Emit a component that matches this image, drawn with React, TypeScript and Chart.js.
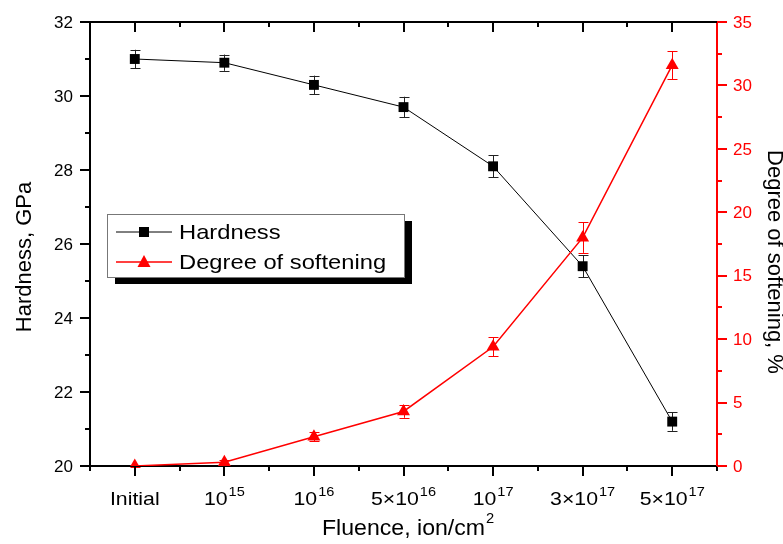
import React, { useEffect, useRef } from 'react';
import { Chart, registerables } from 'chart.js';

Chart.register(...registerables);

// ---- data ----
const categories = ['Initial', '10^15', '10^16', '5×10^16', '10^17', '3×10^17', '5×10^17'];
const hardness = [31.0, 30.9, 30.3, 29.7, 28.1, 25.4, 21.2];
const hardnessErr = [0.25, 0.22, 0.25, 0.28, 0.3, 0.3, 0.25];
const softening = [0, 0.3, 2.3, 4.3, 9.4, 18.0, 31.6];
const softeningErr = [0.1, 0.2, 0.35, 0.5, 0.75, 1.2, 1.1];
const leftTickLabels = [20, 22, 24, 26, 28, 30, 32];
const rightTickLabels = [0, 5, 10, 15, 20, 25, 30, 35];
const leftMinorStep = 1;
const rightMinorStep = 2.5;

const FONT = '"Liberation Sans", Arial, Helvetica, sans-serif';
const RED = '#ff0000';

function textSX(ctx: CanvasRenderingContext2D, text: string, x: number, y: number, sx: number) {
  ctx.save();
  ctx.translate(x, y);
  ctx.scale(sx, 1);
  ctx.fillText(text, 0, 0);
  ctx.restore();
}

const LBL_SX = 1.12;

function drawLabel(ctx: CanvasRenderingContext2D, text: string, cx: number, baseY: number) {
  const parts = text.split('^');
  const base = parts[0];
  const exp = parts[1] || '';
  ctx.font = `19px ${FONT}`;
  const wb = ctx.measureText(base).width * LBL_SX;
  ctx.font = `13px ${FONT}`;
  const we = exp ? ctx.measureText(exp).width * LBL_SX + 1 : 0;
  const x0 = cx - (wb + we) / 2;
  ctx.textAlign = 'left';
  ctx.textBaseline = 'alphabetic';
  ctx.font = `19px ${FONT}`;
  textSX(ctx, base, x0, baseY, LBL_SX);
  if (exp) {
    ctx.font = `13px ${FONT}`;
    textSX(ctx, exp, x0 + wb + 1, baseY - 9, LBL_SX);
  }
}

const decorPlugin = {
  id: 'decor',
  beforeDatasetsDraw(chart: any) {
    const ctx: CanvasRenderingContext2D = chart.ctx;
    const y = chart.scales.y;
    const y1 = chart.scales.y1;
    const drawErr = (metaIdx: number, vals: number[], errs: number[], scale: any, color: string) => {
      const meta = chart.getDatasetMeta(metaIdx);
      ctx.save();
      ctx.strokeStyle = color;
      ctx.lineWidth = 1;
      meta.data.forEach((pt: any, i: number) => {
        const top = scale.getPixelForValue(vals[i] + errs[i]);
        const bot = scale.getPixelForValue(vals[i] - errs[i]);
        const x = Math.round(pt.x) + 0.5;
        ctx.beginPath();
        ctx.moveTo(x, top);
        ctx.lineTo(x, bot);
        ctx.moveTo(x - 5, Math.round(top) + 0.5);
        ctx.lineTo(x + 5, Math.round(top) + 0.5);
        ctx.moveTo(x - 5, Math.round(bot) + 0.5);
        ctx.lineTo(x + 5, Math.round(bot) + 0.5);
        ctx.stroke();
      });
      ctx.restore();
    };
    drawErr(0, hardness, hardnessErr, y, '#222');
    drawErr(1, softening, softeningErr, y1, RED);
  },
  afterDraw(chart: any) {
    const ctx: CanvasRenderingContext2D = chart.ctx;
    const { left, right, top, bottom } = chart.chartArea;
    const x = chart.scales.x;
    const y = chart.scales.y;
    const y1 = chart.scales.y1;
    ctx.save();

    // top border
    ctx.strokeStyle = '#000';
    ctx.lineWidth = 2;
    ctx.beginPath();
    ctx.moveTo(left - 1, top);
    ctx.lineTo(right, top);
    ctx.stroke();

    // x ticks (major at categories, minor between)
    ctx.lineWidth = 2;
    const n = categories.length;
    for (let i = 0; i < n; i++) {
      const px = Math.round(x.getPixelForValue(i));
      ctx.beginPath();
      ctx.moveTo(px, bottom);
      ctx.lineTo(px, bottom + 10);
      ctx.moveTo(px, top);
      ctx.lineTo(px, top + 10);
      ctx.stroke();
      if (i < n - 1) {
        const mx = Math.round((x.getPixelForValue(i) + x.getPixelForValue(i + 1)) / 2);
        ctx.beginPath();
        ctx.moveTo(mx, bottom);
        ctx.lineTo(mx, bottom + 5);
        ctx.moveTo(mx, top);
        ctx.lineTo(mx, top + 5);
        ctx.stroke();
      }
    }
    ctx.beginPath();
    ctx.moveTo(left, bottom);
    ctx.lineTo(left, bottom + 5);
    ctx.moveTo(right, bottom);
    ctx.lineTo(right, bottom + 5);
    ctx.stroke();

    // x labels
    ctx.fillStyle = '#000';
    categories.forEach((c, i) => {
      drawLabel(ctx, c, x.getPixelForValue(i), 505);
    });

    // left ticks
    ctx.strokeStyle = '#000';
    for (let v = y.min; v <= y.max + 1e-9; v += leftMinorStep) {
      const py = Math.round(y.getPixelForValue(v));
      const major = leftTickLabels.includes(v);
      ctx.beginPath();
      ctx.moveTo(left - (major ? 10 : 5), py);
      ctx.lineTo(left, py);
      ctx.stroke();
    }
    ctx.font = `17px ${FONT}`;
    ctx.textAlign = 'right';
    ctx.textBaseline = 'middle';
    leftTickLabels.forEach((v) => {
      ctx.fillText(String(v), left - 17, y.getPixelForValue(v) + 1);
    });

    // right ticks
    ctx.strokeStyle = RED;
    ctx.fillStyle = RED;
    for (let v = y1.min; v <= y1.max + 1e-9; v += rightMinorStep) {
      const py = Math.round(y1.getPixelForValue(v));
      const major = rightTickLabels.includes(v);
      ctx.beginPath();
      ctx.moveTo(right, py);
      ctx.lineTo(right + (major ? 10 : 5), py);
      ctx.stroke();
    }
    ctx.textAlign = 'left';
    rightTickLabels.forEach((v) => {
      ctx.fillText(String(v), right + 16, y1.getPixelForValue(v) + 1);
    });

    // axis titles
    ctx.fillStyle = '#000';
    ctx.font = `22px ${FONT}`;
    ctx.textAlign = 'center';
    ctx.textBaseline = 'middle';
    ctx.save();
    ctx.translate(25, 257);
    ctx.rotate(-Math.PI / 2);
    ctx.fillText('Hardness, GPa', 0, 0);
    ctx.restore();

    ctx.save();
    ctx.translate(774, 262);
    ctx.rotate(Math.PI / 2);
    ctx.fillText('Degree of softening, %', 0, 0);
    ctx.restore();

    // x title
    ctx.textAlign = 'left';
    ctx.textBaseline = 'alphabetic';
    const TSX = 1.05;
    ctx.font = `22px ${FONT}`;
    const t = 'Fluence, ion/cm';
    const tw = ctx.measureText(t).width * TSX;
    ctx.font = `14px ${FONT}`;
    const sw = ctx.measureText('2').width * TSX;
    const tx = 322;
    ctx.font = `22px ${FONT}`;
    textSX(ctx, t, tx, 535, TSX);
    ctx.font = `14px ${FONT}`;
    textSX(ctx, '2', tx + tw + 1, 523, TSX);
    void sw;

    // legend
    const bx = 107, by = 214, bw = 297, bh = 63;
    ctx.fillStyle = '#000';
    ctx.fillRect(bx + 8, by + 7, bw, bh);
    ctx.fillStyle = '#fff';
    ctx.fillRect(bx, by, bw, bh);
    ctx.strokeStyle = '#777';
    ctx.lineWidth = 1;
    ctx.strokeRect(bx + 0.5, by + 0.5, bw, bh);

    const rows = [
      { label: 'Hardness', color: '#000', style: 'rect', y: 232, lw: 1 },
      { label: 'Degree of softening', color: RED, style: 'triangle', y: 262, lw: 1.5 },
    ];
    rows.forEach((r) => {
      ctx.strokeStyle = r.color;
      ctx.lineWidth = r.lw;
      ctx.beginPath();
      ctx.moveTo(116, r.y);
      ctx.lineTo(172, r.y);
      ctx.stroke();
      ctx.fillStyle = r.color;
      if (r.style === 'rect') {
        ctx.fillRect(139, r.y - 5, 10, 10);
      } else {
        ctx.beginPath();
        ctx.moveTo(144, r.y - 7);
        ctx.lineTo(150.5, r.y + 5);
        ctx.lineTo(137.5, r.y + 5);
        ctx.closePath();
        ctx.fill();
      }
      ctx.fillStyle = '#000';
      ctx.font = `21px ${FONT}`;
      ctx.textAlign = 'left';
      ctx.textBaseline = 'middle';
      textSX(ctx, r.label, 179, r.y + 1, 1.13);
    });

    ctx.restore();
  },
};

export default function App() {
  const ref = useRef<HTMLCanvasElement | null>(null);
  useEffect(() => {
    if (!ref.current) return;
    const chart = new Chart(ref.current, {
      type: 'line',
      data: {
        labels: categories,
        datasets: [
          {
            label: 'Hardness',
            data: hardness,
            yAxisID: 'y',
            borderColor: '#000',
            backgroundColor: '#000',
            borderWidth: 1,
            pointStyle: 'rect',
            pointRadius: 7,
            pointBorderWidth: 0,
            pointBackgroundColor: '#000',
            order: 1,
          },
          {
            label: 'Degree of softening',
            data: softening,
            yAxisID: 'y1',
            borderColor: RED,
            backgroundColor: RED,
            borderWidth: 1.5,
            pointStyle: 'triangle',
            pointRadius: 7.5,
            pointBorderWidth: 0,
            pointBackgroundColor: RED,
            order: 0,
          },
        ],
      },
      options: {
        animation: false,
        responsive: true,
        maintainAspectRatio: false,
        layout: { padding: { top: 22, left: 0, right: 0, bottom: 0 } },
        plugins: { legend: { display: false }, tooltip: { enabled: false } },
        scales: {
          x: {
            type: 'category',
            offset: true,
            grid: { display: false },
            border: { display: true, color: '#000', width: 2 },
            ticks: { display: false },
            afterFit: (s: any) => { s.height = 78; },
          },
          y: {
            type: 'linear',
            position: 'left',
            min: 20,
            max: 32,
            grid: { display: false },
            border: { display: true, color: '#000', width: 2 },
            ticks: { display: false },
            afterFit: (s: any) => { s.width = 90; },
          },
          y1: {
            type: 'linear',
            position: 'right',
            min: 0,
            max: 35,
            grid: { display: false },
            border: { display: true, color: RED, width: 2 },
            ticks: { display: false },
            afterFit: (s: any) => { s.width = 66; },
          },
        },
      },
      plugins: [decorPlugin],
    } as any);
    return () => chart.destroy();
  }, []);
  return (
    <div style={{ position: 'absolute', left: 0, top: 0, width: 783, height: 544, background: '#fff' }}>
      <canvas ref={ref} />
    </div>
  );
}
